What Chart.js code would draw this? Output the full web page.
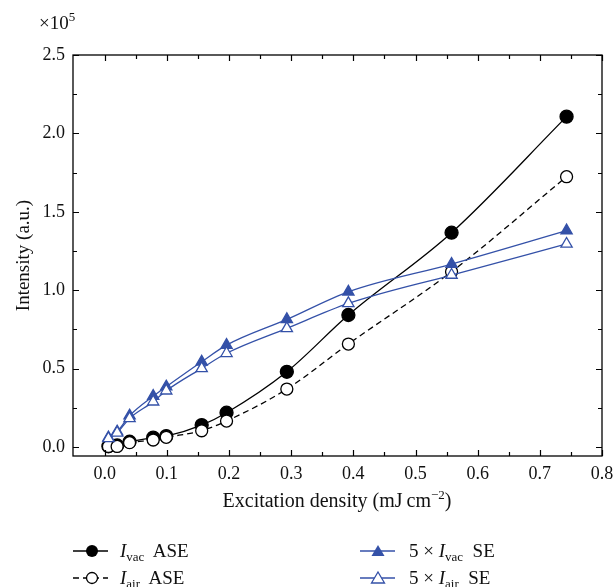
<!DOCTYPE html>
<html>
<head>
<meta charset="utf-8">
<script src="https://cdn.jsdelivr.net/npm/chart.js@4"></script>
<style>
  body { margin: 0; background: #fff; }
  #wrap { position: relative; width: 615px; height: 587px; font-family: "Liberation Serif", "DejaVu Serif", serif; color: #111; }
  #chart { position: absolute; left: 0; top: 0; }
  .lbl { position: absolute; white-space: nowrap; font-size: 19px; line-height: 1; }
  .lbl i { font-style: italic; }
  .lbl sub { font-size: 13px; vertical-align: -4px; line-height: 0; }
  .lbl sup { font-size: 13px; vertical-align: 8px; line-height: 0; }
  .key { position: absolute; }
</style>
</head>
<body>
<div id="wrap">
  <canvas id="chart" width="615" height="587"></canvas>
  <div class="lbl" style="left:39px; top:13px;">×10<sup>5</sup></div>
  <div class="lbl" id="xtitle" style="left:337px; top:490px; font-size:20px; transform:translateX(-50%);">Excitation density (mJ&#8201;cm<sup>−2</sup>)</div>

  <svg class="key" style="left:70px; top:541px;" width="42" height="20">
    <line x1="3" y1="10" x2="38" y2="10" stroke="#000" stroke-width="1.3"/>
    <circle cx="22" cy="10" r="6" fill="#000"/>
  </svg>
  <div class="lbl" style="left:120px; top:541px;"><i>I</i><sub>vac</sub>&nbsp; ASE</div>

  <svg class="key" style="left:70px; top:568px;" width="42" height="20">
    <line x1="3" y1="10" x2="38" y2="10" stroke="#000" stroke-width="1.3" stroke-dasharray="6,4"/>
    <circle cx="22" cy="10" r="5.5" fill="#fff" stroke="#000" stroke-width="1.3"/>
  </svg>
  <div class="lbl" style="left:120px; top:568px;"><i>I</i><sub>air</sub>&nbsp; ASE</div>

  <svg class="key" style="left:357px; top:541px;" width="42" height="20">
    <line x1="3" y1="10" x2="38" y2="10" stroke="#3451a8" stroke-width="1.3"/>
    <polygon points="21,4 27.5,15 14.5,15" fill="#3451a8"/>
  </svg>
  <div class="lbl" style="left:409px; top:541px;">5 × <i>I</i><sub>vac</sub>&nbsp; SE</div>

  <svg class="key" style="left:357px; top:568px;" width="42" height="20">
    <line x1="3" y1="10" x2="38" y2="10" stroke="#3451a8" stroke-width="1.3"/>
    <polygon points="21,4 27.5,15 14.5,15" fill="#fff" stroke="#3451a8" stroke-width="1.3"/>
  </svg>
  <div class="lbl" style="left:409px; top:568px;">5 × <i>I</i><sub>air</sub>&nbsp; SE</div>
</div>

<script>
// excitation density (mJ cm^-2) and intensities (x 1e5 a.u.)
const density = [0.006, 0.02, 0.04, 0.078, 0.099, 0.156, 0.196, 0.293, 0.392, 0.558, 0.743];
const vacASE  = [0.005, 0.010, 0.034, 0.060, 0.070, 0.140, 0.219, 0.480, 0.842, 1.367, 2.107];
const airASE  = [0.004, 0.004, 0.028, 0.045, 0.062, 0.104, 0.166, 0.370, 0.657, 1.118, 1.724];
const vacSE   = [0.060, 0.098, 0.200, 0.325, 0.385, 0.544, 0.650, 0.814, 0.990, 1.167, 1.380];
const airSE   = [0.055, 0.091, 0.183, 0.289, 0.359, 0.502, 0.598, 0.757, 0.916, 1.097, 1.295];

const xTicks = [0, 0.1, 0.2, 0.3, 0.4, 0.5, 0.6, 0.7, 0.8];
const yTicks = [0, 0.5, 1.0, 1.5, 2.0, 2.5];

const BLUE = '#3451a8';
const FAMILY = '"Liberation Serif", "DejaVu Serif", serif';

function pts(ys) {
  return density.map((x, i) => ({ x: x, y: ys[i] }));
}

// box frame with inward major/minor ticks on all four sides
const frameTicks = {
  id: 'frameTicks',
  afterDraw(chart) {
    const { ctx, chartArea: a, scales } = chart;
    const xs = scales.x, ys = scales.y;
    ctx.save();
    ctx.strokeStyle = '#000';
    ctx.lineWidth = 1.3;
    ctx.strokeRect(a.left, a.top, a.right - a.left, a.bottom - a.top);
    ctx.lineWidth = 1.2;
    ctx.beginPath();
    for (let v = 0; v <= 0.8001; v += 0.05) {
      const px = Math.round(xs.getPixelForValue(v)) + 0.5;
      const len = Math.abs(v * 10 - Math.round(v * 10)) < 1e-6 ? 6 : 4;
      ctx.moveTo(px, a.bottom); ctx.lineTo(px, a.bottom - len);
      ctx.moveTo(px, a.top); ctx.lineTo(px, a.top + len);
    }
    for (let v = 0; v <= 2.5001; v += 0.25) {
      const py = Math.round(ys.getPixelForValue(v)) + 0.5;
      const len = Math.abs(v * 2 - Math.round(v * 2)) < 1e-6 ? 6 : 4;
      ctx.moveTo(a.left, py); ctx.lineTo(a.left + len, py);
      ctx.moveTo(a.right, py); ctx.lineTo(a.right - len, py);
    }
    ctx.stroke();
    ctx.restore();
  }
};

const common = {
  borderWidth: 1.3,
  pointRadius: 6,
  pointHoverRadius: 6,
  pointBorderWidth: 1.3,
  cubicInterpolationMode: 'monotone',
  fill: false
};

new Chart(document.getElementById('chart').getContext('2d'), {
  type: 'line',
  data: {
    datasets: [
      Object.assign({}, common, { label: '5 × I_air SE', data: pts(airSE), borderColor: BLUE,
        pointStyle: 'triangle', pointRadius: 6.5, pointBackgroundColor: '#fff', pointBorderColor: BLUE }),
      Object.assign({}, common, { label: '5 × I_vac SE', data: pts(vacSE), borderColor: BLUE,
        pointStyle: 'triangle', pointRadius: 6.5, pointBackgroundColor: BLUE, pointBorderColor: BLUE }),
      Object.assign({}, common, { label: 'I_air ASE', data: pts(airASE), borderColor: '#000', borderDash: [6, 4],
        pointStyle: 'circle', pointBackgroundColor: '#fff', pointBorderColor: '#000', pointRadius: 6 }),
      Object.assign({}, common, { label: 'I_vac ASE', data: pts(vacASE), borderColor: '#000',
        pointStyle: 'circle', pointBackgroundColor: '#000', pointBorderColor: '#000', pointRadius: 6.5 })
    ]
  },
  options: {
    responsive: false,
    animation: false,
    devicePixelRatio: 1,
    layout: { padding: { top: 55, right: 13, bottom: 91, left: 0 } },
    plugins: { legend: { display: false }, tooltip: { enabled: false } },
    scales: {
      x: {
        type: 'linear', min: -0.051, max: 0.8,
        grid: { display: false, drawTicks: false },
        border: { display: false },
        afterBuildTicks: s => { s.ticks = xTicks.map(v => ({ value: v })); },
        afterFit: s => { s.height = 40; s.paddingLeft = 0; s.paddingRight = 0; },
        ticks: { color: '#111', font: { family: FAMILY, size: 18 }, padding: 7, maxRotation: 0,
          callback: v => Number(v).toFixed(1) }
      },
      y: {
        type: 'linear', min: -0.057, max: 2.5,
        grid: { display: false, drawTicks: false },
        border: { display: false },
        afterBuildTicks: s => { s.ticks = yTicks.map(v => ({ value: v })); },
        afterFit: s => { s.width = 73; s.paddingTop = 0; s.paddingBottom = 0; },
        title: { display: true, text: 'Intensity (a.u.)', color: '#111', font: { family: FAMILY, size: 19 },
          padding: { top: 13, bottom: 0 } },
        ticks: { color: '#111', font: { family: FAMILY, size: 18 }, padding: 8,
          callback: v => Number(v).toFixed(1) }
      }
    }
  },
  plugins: [frameTicks]
});
</script>
</body>
</html>
